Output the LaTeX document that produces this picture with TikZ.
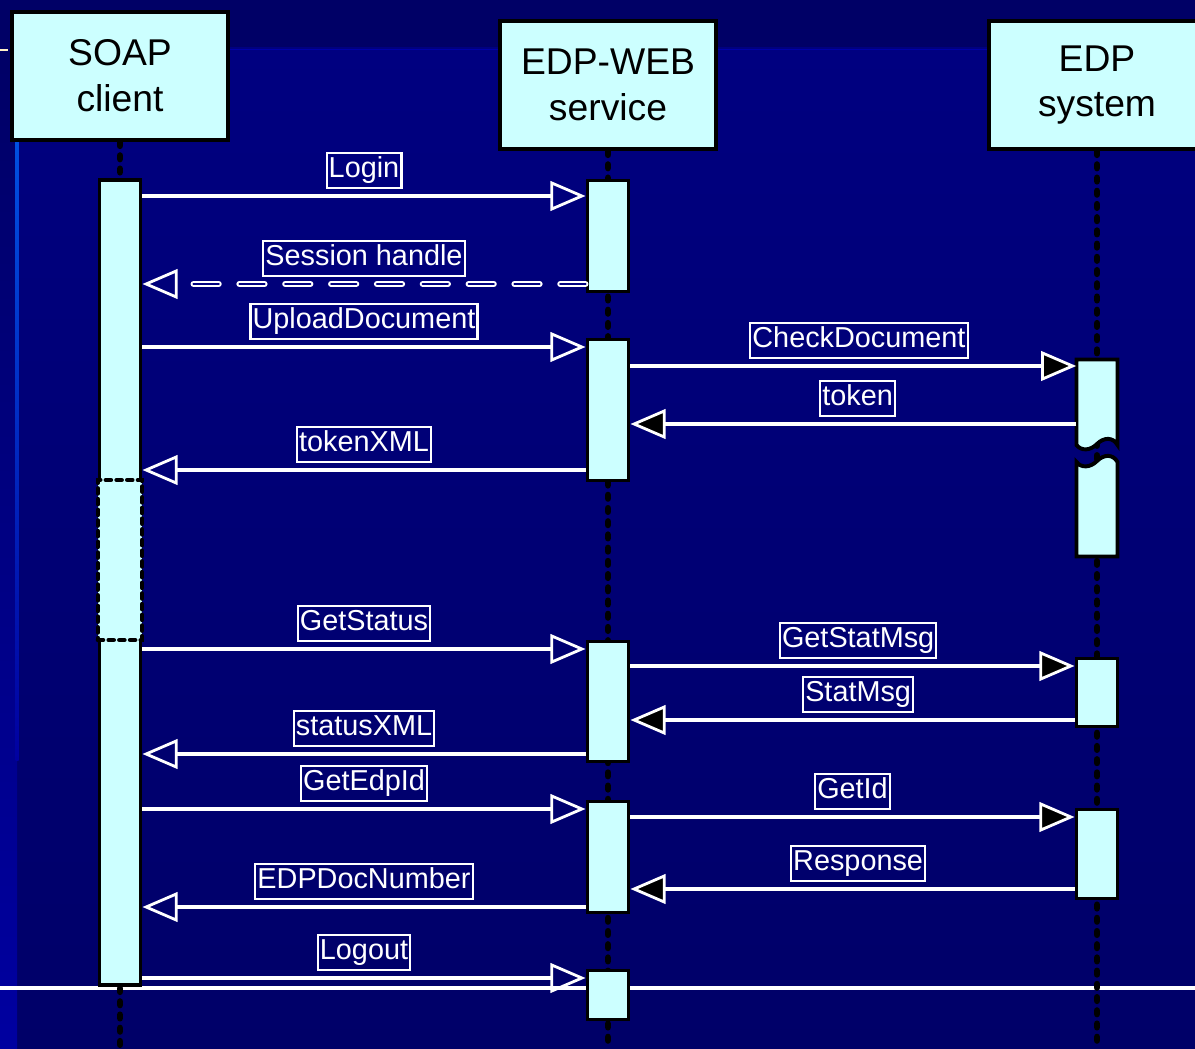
\documentclass[tikz,border=0pt]{standalone}
\usepackage{fontspec}
\setmainfont{Liberation Sans}
\usetikzlibrary{arrows.meta}

\definecolor{slidetop}{RGB}{0,0,102}
\definecolor{slidemain}{RGB}{0,0,128}
\definecolor{slidelow}{RGB}{0,0,104}
\definecolor{stripblue}{RGB}{0,0,160}
\definecolor{linebright}{RGB}{0,80,224}
\definecolor{rulecol}{RGB}{0,0,168}
\definecolor{boxfill}{RGB}{204,255,255}
\definecolor{tickcol}{RGB}{255,240,200}

\begin{document}
\begin{tikzpicture}[x=0.025cm,y=-0.025cm,
		head node/.style={rectangle,draw=black,line width=3.4pt,fill=boxfill,
			minimum width=5.4cm,minimum height=3.2cm,align=center,
			font=\fontsize{26.5}{32.5}\selectfont},
		act node/.style={rectangle,draw=black,line width=2.8pt,fill=boxfill,
			minimum width=1.025cm,inner sep=0pt},
		life/.style={draw=black,line width=4.8pt,line cap=round,dash pattern=on 2.4pt off 7pt},
		msg label/.style={draw=white,line width=1.6pt,text=white,
			font=\fontsize{20.5}{24}\selectfont,inner xsep=1.5pt,inner ysep=3pt,
			text height=14.8pt,text depth=4.2pt},
		call/.style={draw=white,line width=2.7pt,
			-{Triangle[open,length=25pt,width=21pt,line width=2pt]}},
		sig/.style={draw=white,line width=2.7pt,
			-{Triangle[length=25pt,width=21pt,line width=2pt,fill=black]}}]

	% slide background
	\useasboundingbox (0,0) rectangle (1195,1049);
	\fill[slidetop] (0,0) rectangle (1195,48);
	\shade[top color=slidemain,bottom color=slidelow] (17,48) rectangle (1195,1049);
	\shade[top color=slidetop,bottom color=stripblue] (0,48) rectangle (17,1049);
	\shade[top color=linebright,bottom color=stripblue] (15.5,142) rectangle (18.5,760);
	\draw[rulecol,line width=1.4pt] (17,49.5) -- (1195,49.5);
	\draw[tickcol,line width=2pt] (0,50) -- (8,50);
	\draw[white,line width=2.2pt] (0,988) -- (1195,988);

	% objects
	\node[head node] (soap) at (120,76) {SOAP\\client};
	\node[head node] (web) at (608,85) {EDP-WEB\\service};
	\node[head node] (edp) at (1097,85) {EDP\\system};

	\draw[life] (soap.south) -- (120,1049);
	\draw[life] (web.south) -- (608,1049);
	\draw[life] (edp.south) -- (1097,1049);

	% activations
	\node[act node,minimum height=20.1cm] (sc) at (120,582.5) {};
	\node[fill=boxfill,minimum width=1.1cm,minimum height=4cm,inner sep=0pt,
		draw=black,line width=3.2pt,line cap=round,dash pattern=on 3.6pt off 4pt] (idle) at (120,560) {};
	\node[act node,minimum height=2.775cm] (w1) at (608,236) {};
	\node[act node,minimum height=3.525cm] (w2) at (608,410) {};
	\node[act node,minimum height=3.0cm] (w3) at (608,701.5) {};
	\node[act node,minimum height=2.775cm] (w4) at (608,857) {};
	\node[act node,minimum height=1.225cm] (w5) at (608,995) {};
	\node[minimum width=1.025cm,minimum height=4.925cm,inner sep=0pt] (e1) at (1097,458) {};
	\filldraw[fill=boxfill,draw=black,line width=2.8pt]
		(1076.5,359.5) -- (1117.5,359.5) -- (1117.5,445)
		.. controls (1113,437) and (1104,437) .. (1097,444)
		.. controls (1090,451) and (1081,451) .. (1076.5,445) -- cycle;
	\filldraw[fill=boxfill,draw=black,line width=2.8pt]
		(1076.5,462) .. controls (1081,468) and (1090,468) .. (1097,461)
		.. controls (1104,454) and (1113,454) .. (1117.5,462)
		-- (1117.5,556.5) -- (1076.5,556.5) -- cycle;
	\node[act node,minimum height=1.7cm] (e2) at (1097,692.5) {};
	\node[act node,minimum height=2.225cm] (e3) at (1097,854) {};

	% message rows
	\foreach \name/\row in {login/196,session/284,upload/347,check/366,token/424,
		tokenxml/470,getstatus/649,getstatmsg/666,statmsg/720,statusxml/754,
		getedpid/809,getid/817,response/889,edpdoc/907,logout/978}
		\coordinate (\name) at (0,\row);

	% messages
	\draw[call] (sc.east |- login) -- node[msg label,above=5pt] {Login} (w1.west |- login);
	\draw[draw=white,line width=4.2pt,line cap=round,dash pattern=on 18pt off 14.6pt,
		-{Triangle[open,length=25pt,width=21pt,line width=2pt]}]
		(w1.west |- session) -- node[msg label,above=5pt,solid] {Session handle} (sc.east |- session);
	\draw[draw=slidemain,line width=1.4pt,line cap=round,dash pattern=on 18pt off 14.6pt,
		shorten >=27pt] (w1.west |- session) -- (sc.east |- session);
	\draw[call] (sc.east |- upload) -- node[msg label,above=5pt] {UploadDocument} (w2.west |- upload);
	\draw[sig] (w2.east |- check) -- node[msg label,above=5pt,xshift=4pt] {CheckDocument} (e1.west |- check);
	\draw[sig] (e1.west |- token) -- node[msg label,above=5pt,xshift=3pt] {token} (w2.east |- token);
	\draw[call] (w2.west |- tokenxml) -- node[msg label,above=5pt] {tokenXML} (sc.east |- tokenxml);
	\draw[call] (sc.east |- getstatus) -- node[msg label,above=5pt] {GetStatus} (w3.west |- getstatus);
	\draw[sig] (w3.east |- getstatmsg) -- node[msg label,above=5pt,xshift=4pt] {GetStatMsg} (e2.west |- getstatmsg);
	\draw[sig] (e2.west |- statmsg) -- node[msg label,above=5pt,xshift=4pt] {StatMsg} (w3.east |- statmsg);
	\draw[call] (w3.west |- statusxml) -- node[msg label,above=5pt] {statusXML} (sc.east |- statusxml);
	\draw[call] (sc.east |- getedpid) -- node[msg label,above=5pt] {GetEdpId} (w4.west |- getedpid);
	\draw[sig] (w4.east |- getid) -- node[msg label,above=5pt] {GetId} (e3.west |- getid);
	\draw[sig] (e3.west |- response) -- node[msg label,above=5pt,xshift=4pt] {Response} (w4.east |- response);
	\draw[call] (w4.west |- edpdoc) -- node[msg label,above=5pt] {EDPDocNumber} (sc.east |- edpdoc);
	\draw[call] (sc.east |- logout) -- node[msg label,above=5pt] {Logout} (w5.west |- logout);
\end{tikzpicture}
\end{document}
